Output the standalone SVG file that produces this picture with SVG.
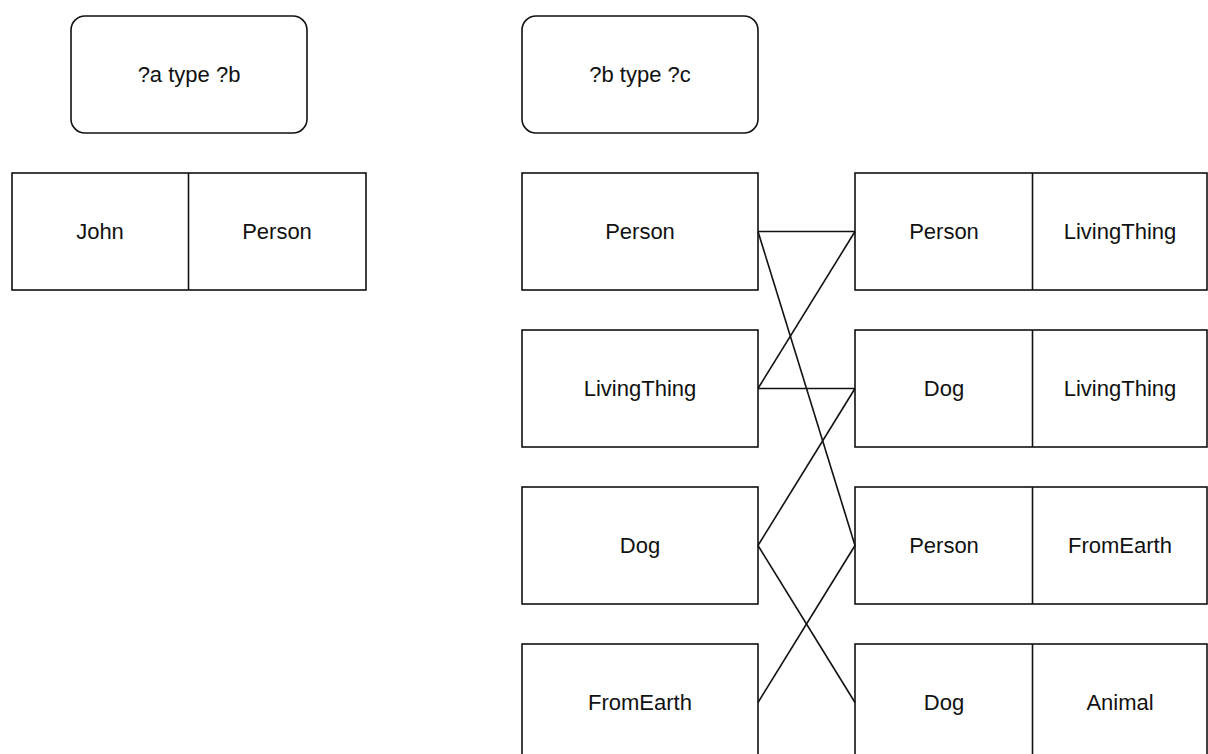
<svg xmlns="http://www.w3.org/2000/svg" width="1208" height="754" viewBox="0 0 1208 754">
  <style>
    .box { fill: #ffffff; stroke: #111111; stroke-width: 1.6; }
    .div { stroke: #111111; stroke-width: 1.6; }
    .lbl { font-family: "Liberation Sans", Arial, sans-serif; font-size: 22px; fill: #111111; text-anchor: middle; dominant-baseline: central; }
    .link { stroke: #111111; stroke-width: 1.6; fill: none; }
  </style>
  <rect width="1208" height="754" fill="#ffffff"/>

  <!-- query patterns -->
  <g id="pattern-a">
    <rect class="box" x="71" y="16" width="236" height="117" rx="14"/>
    <text class="lbl" x="189" y="74.5">?a type ?b</text>
  </g>
  <g id="pattern-b">
    <rect class="box" x="522" y="16" width="236" height="117" rx="14"/>
    <text class="lbl" x="640" y="74.5">?b type ?c</text>
  </g>

  <!-- result of ?a type ?b -->
  <g id="row-john-person">
    <rect class="box" x="12" y="173" width="354" height="117"/>
    <line class="div" x1="188.5" y1="173" x2="188.5" y2="290"/>
    <text class="lbl" x="100" y="231.5">John</text>
    <text class="lbl" x="277" y="231.5">Person</text>
  </g>

  <!-- candidate ?b values -->
  <g id="b-person">
    <rect class="box" x="522" y="173" width="236" height="117"/>
    <text class="lbl" x="640" y="231.5">Person</text>
  </g>
  <g id="b-livingthing">
    <rect class="box" x="522" y="330" width="236" height="117"/>
    <text class="lbl" x="640" y="388.5">LivingThing</text>
  </g>
  <g id="b-dog">
    <rect class="box" x="522" y="487" width="236" height="117"/>
    <text class="lbl" x="640" y="545.5">Dog</text>
  </g>
  <g id="b-fromearth">
    <rect class="box" x="522" y="644" width="236" height="117"/>
    <text class="lbl" x="640" y="702.5">FromEarth</text>
  </g>

  <!-- ?b type ?c triples -->
  <g id="t-person-livingthing">
    <rect class="box" x="855" y="173" width="352" height="117"/>
    <line class="div" x1="1032.5" y1="173" x2="1032.5" y2="290"/>
    <text class="lbl" x="944" y="231.5">Person</text>
    <text class="lbl" x="1120" y="231.5">LivingThing</text>
  </g>
  <g id="t-dog-livingthing">
    <rect class="box" x="855" y="330" width="352" height="117"/>
    <line class="div" x1="1032.5" y1="330" x2="1032.5" y2="447"/>
    <text class="lbl" x="944" y="388.5">Dog</text>
    <text class="lbl" x="1120" y="388.5">LivingThing</text>
  </g>
  <g id="t-person-fromearth">
    <rect class="box" x="855" y="487" width="352" height="117"/>
    <line class="div" x1="1032.5" y1="487" x2="1032.5" y2="604"/>
    <text class="lbl" x="944" y="545.5">Person</text>
    <text class="lbl" x="1120" y="545.5">FromEarth</text>
  </g>
  <g id="t-dog-animal">
    <rect class="box" x="855" y="644" width="352" height="117"/>
    <line class="div" x1="1032.5" y1="644" x2="1032.5" y2="761"/>
    <text class="lbl" x="944" y="702.5">Dog</text>
    <text class="lbl" x="1120" y="702.5">Animal</text>
  </g>

  <!-- join links from ?b values to matching subjects -->
  <g id="connectors">
    <line class="link" x1="758" y1="231.5" x2="855" y2="231.5"/>
    <line class="link" x1="758" y1="231.5" x2="855" y2="545.5"/>
    <line class="link" x1="758" y1="388.5" x2="855" y2="231.5"/>
    <line class="link" x1="758" y1="388.5" x2="855" y2="388.5"/>
    <line class="link" x1="758" y1="545.5" x2="855" y2="388.5"/>
    <line class="link" x1="758" y1="545.5" x2="855" y2="702.5"/>
    <line class="link" x1="758" y1="702.5" x2="855" y2="545.5"/>
  </g>
</svg>
